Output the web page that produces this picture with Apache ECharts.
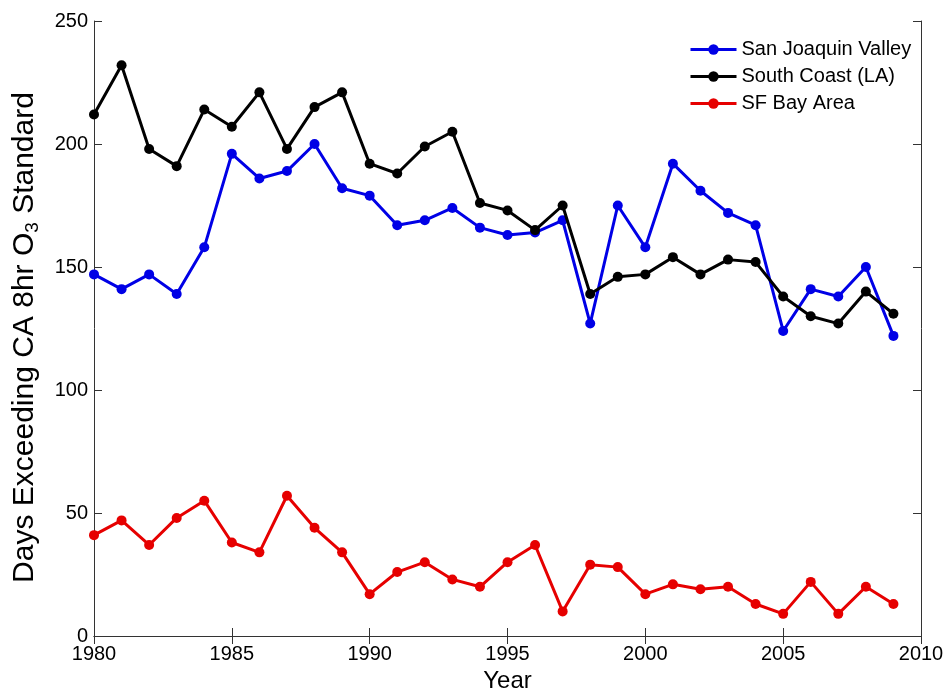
<!DOCTYPE html>
<html>
<head>
<meta charset="utf-8">
<script src="https://cdn.jsdelivr.net/npm/echarts@6/dist/echarts.min.js"></script>
<style>html,body{margin:0;padding:0;background:#fff;}#c{width:948px;height:698px;}</style>
</head>
<body>
<div id="c"></div>
<script>
const years = [1980,1981,1982,1983,1984,1985,1986,1987,1988,1989,1990,1991,1992,1993,1994,1995,1996,1997,1998,1999,2000,2001,2002,2003,2004,2005,2006,2007,2008,2009];
const sanJoaquin = [147,141,147,139,158,196,186,189,200,182,179,167,169,174,166,163,164,169,127,175,158,192,181,172,167,124,141,138,150,122];
const southCoast = [212,232,198,191,214,207,221,198,215,221,192,188,199,205,176,173,165,175,139,146,147,154,147,153,152,138,130,127,140,131];
const sfBay = [41,47,37,48,55,38,34,57,44,34,17,26,30,23,20,30,37,10,29,28,17,21,19,20,13,9,22,9,20,13];
const seriesNames = ['San Joaquin Valley','South Coast (LA)','SF Bay Area'];
const xTicks = {min:1980, max:2010, interval:5};
const yTicks = {min:0, max:250, interval:50};

const FONT = 'Liberation Sans';
const colors = ['#0000e6','#000000','#e60000'];
const datasets = [sanJoaquin, southCoast, sfBay];

const chart = echarts.init(document.getElementById('c'));
const axisLine = {show:true, lineStyle:{color:'#333', width:1}};
const tickIn = {show:true, inside:true, length:8, lineStyle:{color:'#333', width:1}};
chart.setOption({
  animation:false,
  backgroundColor:'#fff',
  grid:{left:91, right:27, top:21, bottom:52, containLabel:false},
  legend:{
    orient:'vertical', left:684, top:34,
    itemWidth:46, itemHeight:13, itemGap:6,
    lineStyle:{width:3},
    textStyle:{fontFamily:FONT, fontSize:20, color:'#000', lineHeight:21},
    data:seriesNames
  },
  xAxis:[{
    type:'value', position:'bottom', min:xTicks.min, max:xTicks.max, interval:xTicks.interval,
    axisLine:axisLine, axisTick:tickIn, splitLine:{show:false},
    axisLabel:{fontFamily:FONT, fontSize:20, color:'#000', margin:8, formatter:(v)=>String(v)},
    name:'Year', nameLocation:'middle', nameGap:33,
    nameTextStyle:{fontFamily:FONT, fontSize:24, color:'#000'}
  },{
    type:'value', position:'top', min:xTicks.min, max:xTicks.max, interval:xTicks.interval,
    axisLine:axisLine, axisTick:tickIn, axisLabel:{show:false}, splitLine:{show:false}
  }],
  yAxis:[{
    type:'value', position:'left', min:yTicks.min, max:yTicks.max, interval:yTicks.interval,
    axisLine:axisLine, axisTick:tickIn, splitLine:{show:false},
    axisLabel:{fontFamily:FONT, fontSize:20, color:'#000', margin:6},
    name:'{a|Days Exceeding CA 8hr O}{s|3}{b| Standard}', nameLocation:'middle', nameGap:52, nameRotate:90,
    nameTextStyle:{fontFamily:FONT, fontSize:30, color:'#000',
      rich:{a:{fontFamily:FONT, fontSize:30, color:'#000', lineHeight:34},
            b:{fontFamily:FONT, fontSize:30, color:'#000', lineHeight:34, padding:[0,18,0,0]},
            s:{fontFamily:FONT, fontSize:19, color:'#000', lineHeight:34, verticalAlign:'bottom', padding:[15,0,0,0]}}}
  },{
    type:'value', position:'right', min:yTicks.min, max:yTicks.max, interval:yTicks.interval,
    axisLine:axisLine, axisTick:tickIn, axisLabel:{show:false}, splitLine:{show:false}
  }],
  series: datasets.map((d,i)=>({
    name:seriesNames[i], type:'line',
    data: years.map((y,j)=>[y,d[j]]),
    symbol:'circle', symbolSize:10, showSymbol:true,
    lineStyle:{width:3, color:colors[i]},
    itemStyle:{color:colors[i]},
    z: 2+i
  }))
});
</script>
</body>
</html>
